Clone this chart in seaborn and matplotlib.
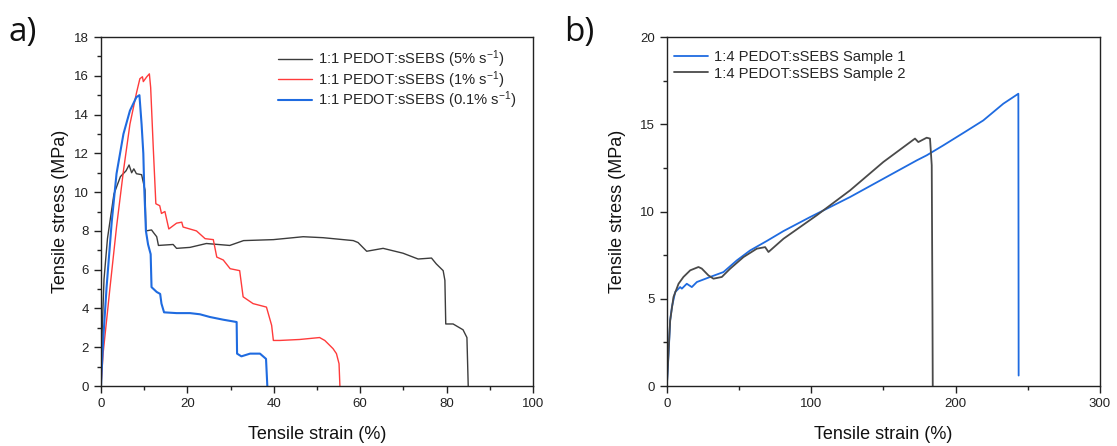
import numpy as np
import pandas as pd
import matplotlib
matplotlib.use("Agg")
import matplotlib.pyplot as plt
from matplotlib.ticker import MultipleLocator
import seaborn as sns

# ---------------- data: panel a (1:1 PEDOT:sSEBS) ----------------
a5_strain = [0, 0.3, 0.7, 1.5, 3.0, 4.5, 5.8, 6.5, 7.1, 7.6, 8.2, 9.4, 10.2, 10.4, 11.7, 12.2, 12.9,
             13.3, 16.7, 17.5, 20.6, 24.4, 29.8, 33.0, 39.9, 46.8, 51.4, 58.4, 59.5, 61.5, 65.3,
             69.9, 73.4, 76.5, 77.6, 79.2, 79.6, 79.8, 81.5, 83.8, 84.7, 85.0]
a5_stress = [0, 3.0, 5.5, 7.6, 9.9, 10.8, 11.1, 11.4, 11.0, 11.2, 10.95, 10.9, 10.1, 8.0, 8.05, 7.9, 7.7,
             7.25, 7.3, 7.1, 7.15, 7.35, 7.25, 7.5, 7.55, 7.7, 7.65, 7.5, 7.4, 6.95, 7.1,
             6.85, 6.55, 6.6, 6.3, 5.95, 5.45, 3.2, 3.2, 2.9, 2.5, 0]

a1_strain = [0, 0.5, 1.4, 2.1, 3.6, 5.2, 6.7, 8.2, 9.0, 9.6, 9.8, 10.6, 11.2, 11.5, 12.1, 12.7, 13.6,
             14.0, 14.8, 15.7, 17.5, 18.7, 19.0, 22.1, 24.1, 26.0, 26.8, 28.3, 29.9, 32.1, 32.9,
             35.2, 38.3, 39.5, 39.9, 41.4, 46.0, 50.6, 51.8, 53.7, 54.5, 55.1, 55.3]
a1_stress = [0, 1.7, 3.6, 5.1, 8.2, 11.1, 13.5, 15.1, 15.85, 15.95, 15.7, 15.95, 16.1, 15.4, 12.3, 9.4, 9.3,
             8.9, 9.0, 8.1, 8.4, 8.45, 8.2, 8.0, 7.6, 7.55, 6.65, 6.5, 6.05, 5.95, 4.6,
             4.25, 4.07, 3.13, 2.35, 2.35, 2.4, 2.5, 2.35, 1.93, 1.67, 1.15, 0]

a01_strain = [0, 0.5, 1.3, 2.5, 3.6, 5.2, 6.7, 8.2, 8.9, 9.0, 9.4, 9.8, 10.0, 10.4, 10.9, 11.5, 11.7,
              12.9, 13.7, 14.0, 14.6, 17.5, 20.6, 22.9, 25.2, 28.3, 31.4, 31.5, 32.5, 34.5, 36.8,
              38.2, 38.5]
a01_stress = [0, 2.35, 5.1, 8.5, 10.95, 13.0, 14.2, 14.9, 15.0, 14.7, 13.5, 12.0, 10.3, 8.0, 7.3, 6.8, 5.1,
              4.85, 4.75, 4.25, 3.8, 3.76, 3.76, 3.7, 3.56, 3.42, 3.3, 1.67, 1.53, 1.67, 1.67,
              1.4, 0]

# ---------------- data: panel b (1:4 PEDOT:sSEBS) ----------------
b1_strain = [0, 1.2, 2.3, 3.5, 5.8, 9.2, 10.4, 13.8, 17.3, 20.8, 30.0, 39.2, 48.5, 57.7, 69.2, 80.8,
             99.2, 110.8, 126.9, 150.0, 173.1, 180.0, 191.5, 206.5, 219.2, 233.1, 243.5, 243.6, 243.7]
b1_stress = [0, 1.85, 3.76, 4.53, 5.39, 5.67, 5.58, 5.86, 5.67, 5.96, 6.25, 6.53, 7.2, 7.77, 8.31, 8.88,
             9.68, 10.16, 10.83, 11.88, 12.93, 13.22, 13.79, 14.56, 15.22, 16.18, 16.75, 9.1, 0.6]

b2_strain = [0, 1.2, 2.3, 4.6, 8.1, 11.5, 16.2, 21.9, 24.2, 28.8, 32.3, 38.1, 43.8, 53.1, 62.3, 68.1,
             70.4, 80.8, 103.8, 126.9, 150.0, 171.9, 174.2, 180.0, 182.3, 183.5, 184.0, 184.2]
b2_stress = [0, 2.0, 3.76, 5.1, 5.86, 6.25, 6.63, 6.82, 6.73, 6.34, 6.15, 6.25, 6.72, 7.39, 7.87, 7.96,
             7.68, 8.44, 9.78, 11.21, 12.84, 14.18, 13.98, 14.23, 14.18, 12.65, 4.3, 0]

labels_a = ["1:1 PEDOT:sSEBS (5% s$^{\\mathregular{-1}}$)",
            "1:1 PEDOT:sSEBS (1% s$^{\\mathregular{-1}}$)",
            "1:1 PEDOT:sSEBS (0.1% s$^{\\mathregular{-1}}$)"]
labels_b = ["1:4 PEDOT:sSEBS Sample 1", "1:4 PEDOT:sSEBS Sample 2"]

sns.set_theme(style="white")
plt.rcParams['font.family'] = ['Liberation Sans', 'DejaVu Sans']
plt.rcParams['mathtext.default'] = 'regular'

fig = plt.figure(figsize=(11.17, 4.46), dpi=100)
axa = fig.add_axes([0.0904, 0.1345, 0.3868, 0.7825])
axb = fig.add_axes([0.5970, 0.1345, 0.3877, 0.7825])

c_black = "#3c3c3c"
c_red = "#ff3b3b"
c_blue = "#1f6be0"

def draw(ax, xs, ys, color, label, lw):
    df = pd.DataFrame({"x": xs, "y": ys})
    sns.lineplot(data=df, x="x", y="y", ax=ax, color=color, lw=lw, label=label,
                 sort=False, estimator=None)

draw(axa, a5_strain, a5_stress, c_black, labels_a[0], 1.0)
draw(axa, a1_strain, a1_stress, c_red, labels_a[1], 1.0)
draw(axa, a01_strain, a01_stress, c_blue, labels_a[2], 1.5)

draw(axb, b1_strain, b1_stress, c_blue, labels_b[0], 1.3)
draw(axb, b2_strain, b2_stress, "#4a4a4a", labels_b[1], 1.3)

for ax in (axa, axb):
    for s in ax.spines.values():
        s.set_color("#222222")
        s.set_linewidth(1.0)
        s.set_visible(True)
    ax.tick_params(which="both", direction="out", top=False, right=False,
                   left=True, bottom=True, colors="#222222", labelsize=9.5)
    ax.tick_params(which="major", length=5, width=1)
    ax.tick_params(which="minor", length=3, width=1)
    ax.set_xlabel("Tensile strain (%)", fontsize=13, color="#111111", labelpad=12)
    ax.grid(False)

axa.set_ylabel("Tensile stress (MPa)", fontsize=13, color="#111111", labelpad=4)
axb.set_ylabel("Tensile stress (MPa)", fontsize=13, color="#111111", labelpad=10)

axa.set_xlim(0, 100)
axa.set_ylim(0, 18)
axa.xaxis.set_major_locator(MultipleLocator(20))
axa.xaxis.set_minor_locator(MultipleLocator(10))
axa.yaxis.set_major_locator(MultipleLocator(2))
axa.yaxis.set_minor_locator(MultipleLocator(1))

axb.set_xlim(0, 300)
axb.set_ylim(0, 20)
axb.xaxis.set_major_locator(MultipleLocator(100))
axb.xaxis.set_minor_locator(MultipleLocator(50))
axb.yaxis.set_major_locator(MultipleLocator(5))
axb.yaxis.set_minor_locator(MultipleLocator(2.5))

axa.legend(loc="upper right", frameon=False, fontsize=10.6, handlelength=2.3,
           handletextpad=0.4, labelspacing=-0.05, borderaxespad=0,
           bbox_to_anchor=(0.975, 0.985))
axb.legend(loc="upper left", frameon=False, fontsize=10.6, handlelength=2.3,
           handletextpad=0.4, labelspacing=0.18, borderaxespad=0,
           bbox_to_anchor=(0.004, 0.98))

fig.text(0.008, 0.965, "a)", fontsize=24, family=["Open Sans", "DejaVu Sans"], va="top", color="#111111")
fig.text(0.505, 0.965, "b)", fontsize=24, family=["Open Sans", "DejaVu Sans"], va="top", color="#111111")

fig.savefig("out.png", dpi=100)
